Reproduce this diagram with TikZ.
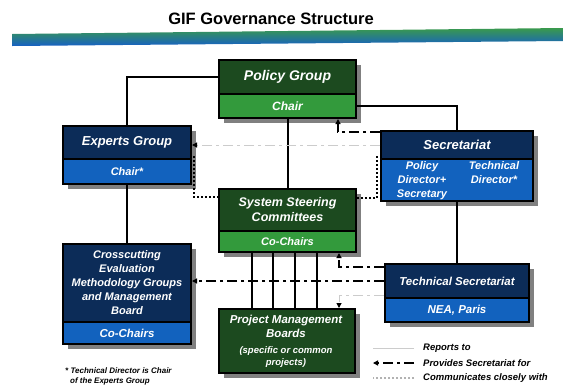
\documentclass[tikz,border=0pt]{standalone}
\usepackage{fontspec}
\setmainfont{Liberation Sans}
\usetikzlibrary{calc}
\usetikzlibrary{positioning}
\usetikzlibrary{shadows}
\usetikzlibrary{arrows.meta}
\definecolor{dgreen}{HTML}{1C4A1F}
\definecolor{lgreen}{HTML}{339A3C}
\definecolor{nnavy}{HTML}{0C2C58}
\definecolor{bblue}{HTML}{1262BE}
\definecolor{sshadow}{HTML}{808080}
\definecolor{bargreen}{HTML}{3A9A4C}
\definecolor{barblue}{HTML}{1660C4}
\newcommand{\boxfont}[2]{\bfseries\itshape\fontsize{#1}{#2}\selectfont}

\begin{document}
\begin{tikzpicture}[x=1pt,y=-1pt,
	box/.style={draw=black, line width=2pt, anchor=north west, inner sep=1pt, text=white, align=center,
		drop shadow={shadow xshift=5pt, shadow yshift=-5pt, fill=sshadow, opacity=1}},
	boxtext/.style={text=white, align=center, inner sep=0pt},
	legend/.style={anchor=west, inner sep=0pt, font=\boxfont{9.5}{11}},
	reports/.style={line width=2pt},
	provides/.style={line width=2pt, dash pattern=on 10pt off 4pt on 3pt off 4pt, -{Triangle[length=5pt,width=5pt]}},
	faint/.style={gray!40, line width=1pt, dash pattern=on 10pt off 4pt on 3pt off 4pt, -{Triangle[length=5pt,width=5pt,color=black]}},
	talks/.style={line width=2pt, dash pattern=on 2pt off 2pt}]
	\useasboundingbox (0,0) rectangle (563,384);

	% title and bar
	\node[anchor=base, font=\bfseries\fontsize{16.5}{18}\selectfont] (title) at (271,24) {GIF Governance Structure};
	\shade[top color=bargreen, bottom color=barblue] (12,34) -- (563,28) -- (563,41) -- (12,46) -- cycle;

	% boxes
	\node[box, fill=dgreen, minimum width=137pt, minimum height=34pt, font=\boxfont{14}{16}] (pg) at (218,59) {Policy Group};
	\node[box, fill=lgreen, minimum width=137pt, minimum height=24pt, font=\boxfont{12}{14}] (pgc) at (218,93) {Chair};
	\node[box, fill=nnavy, minimum width=128pt, minimum height=33pt, font=\boxfont{13}{15}] (eg) at (62,125) {Experts Group};
	\node[box, fill=bblue, minimum width=128pt, minimum height=25pt, font=\boxfont{11}{13}] (egc) at (62,158) {Chair*};
	\node[box, fill=nnavy, minimum width=152pt, minimum height=28pt, font=\boxfont{13}{15}] (sec) at (380,130) {Secretariat};
	\node[box, fill=bblue, minimum width=152pt, minimum height=42pt] (secc) at (380,158) {};
	\node[boxtext, anchor=north, font=\boxfont{11}{14}] (secp) at (422,161) {Policy\\Director+\\Secretary};
	\node[boxtext, anchor=north, font=\boxfont{11}{14}] (sect) at (494,161) {Technical\\Director*};
	\node[box, fill=dgreen, minimum width=137pt, minimum height=42pt, font=\boxfont{12.5}{15}] (ssc) at (218,188) {System Steering\\Committees};
	\node[box, fill=lgreen, minimum width=137pt, minimum height=21pt, font=\boxfont{11}{13}] (sscc) at (218,230) {Co-Chairs};
	\node[box, fill=nnavy, minimum width=128pt, minimum height=78pt, font=\boxfont{11}{14}] (cc) at (62,243) {Crosscutting\\Evaluation\\Methodology Groups\\and Management\\Board};
	\node[box, fill=bblue, minimum width=128pt, minimum height=22pt, font=\boxfont{11.5}{13}] (ccc) at (62,321) {Co-Chairs};
	\node[box, fill=nnavy, minimum width=144pt, minimum height=34pt, font=\boxfont{11.5}{13}] (ts) at (384,263) {Technical Secretariat};
	\node[box, fill=bblue, minimum width=144pt, minimum height=24pt, font=\boxfont{11.5}{13}] (tsc) at (384,297) {NEA, Paris};
	\node[box, fill=dgreen, minimum width=136pt, minimum height=64pt] (pmb) at (218,308) {};
	\node[boxtext, font=\boxfont{11.5}{14}] (pmbt) at (286,326) {Project Management\\Boards};
	\node[boxtext, font=\boxfont{9.5}{12}] (pmbs) at (286,357) {(specific or common\\projects)};

	% reports to
	\draw[reports] (pg.west) -| (eg.north);
	\draw[reports] (pgc.east) -| (sec.north);
	\draw[reports] (pgc.south) -- (ssc.north);
	\draw[reports] (egc.south) -- (cc.north);
	\draw[reports] (secc.south) -- (ts.north);
	\foreach \dx in {34,55,77,99}
		\draw[reports] ([xshift=\dx pt]sscc.south west) -- ([xshift=\dx pt]pmb.north west);

	% provides secretariat for
	\draw[provides] ([yshift=-2pt]sec.north west) -| ([xshift=-19pt]pgc.south east);
	\draw[faint] (sec.west) -- (sec.west -| eg.east);
	\draw[provides] ([yshift=-4pt]ts.north west) -| ([xshift=-18pt]sscc.south east);
	\draw[provides] (ts.west) -- (ts.west -| cc.east);
	\draw[faint] ([yshift=4pt]ts.south west) -| ([xshift=-17pt]pmb.north east);

	% communicates closely with
	\draw[talks] ([xshift=-3pt,yshift=4pt]sec.south west) |- ([yshift=-10pt]ssc.north east);
	\draw[talks] ([xshift=2pt,yshift=4pt]eg.south east) |- ([yshift=-9pt]ssc.north west);

	% legend
	\coordinate (la1) at (373,348); \coordinate (lb1) at (414,348);
	\coordinate (la2) at (373,363); \coordinate (lb2) at (414,363);
	\coordinate (la3) at (373,378); \coordinate (lb3) at (414,378);
	\draw[gray!40, line width=1pt] (lb1) -- (la1);
	\draw[provides] (lb2) -- (la2);
	\draw[talks, gray!60] (lb3) -- (la3);
	\node[legend] (lrep) at (423,348) {Reports to};
	\node[legend] (lsec) at (423,363) {Provides Secretariat for};
	\node[legend] (lcom) at (423,378) {Communicates closely with};

	% footnote
	\node[anchor=north west, align=left, inner sep=0pt, font=\boxfont{8}{10}] (note) at (65,367) {* Technical Director is Chair\\\hspace{5pt}of the Experts Group};
\end{tikzpicture}
\end{document}
